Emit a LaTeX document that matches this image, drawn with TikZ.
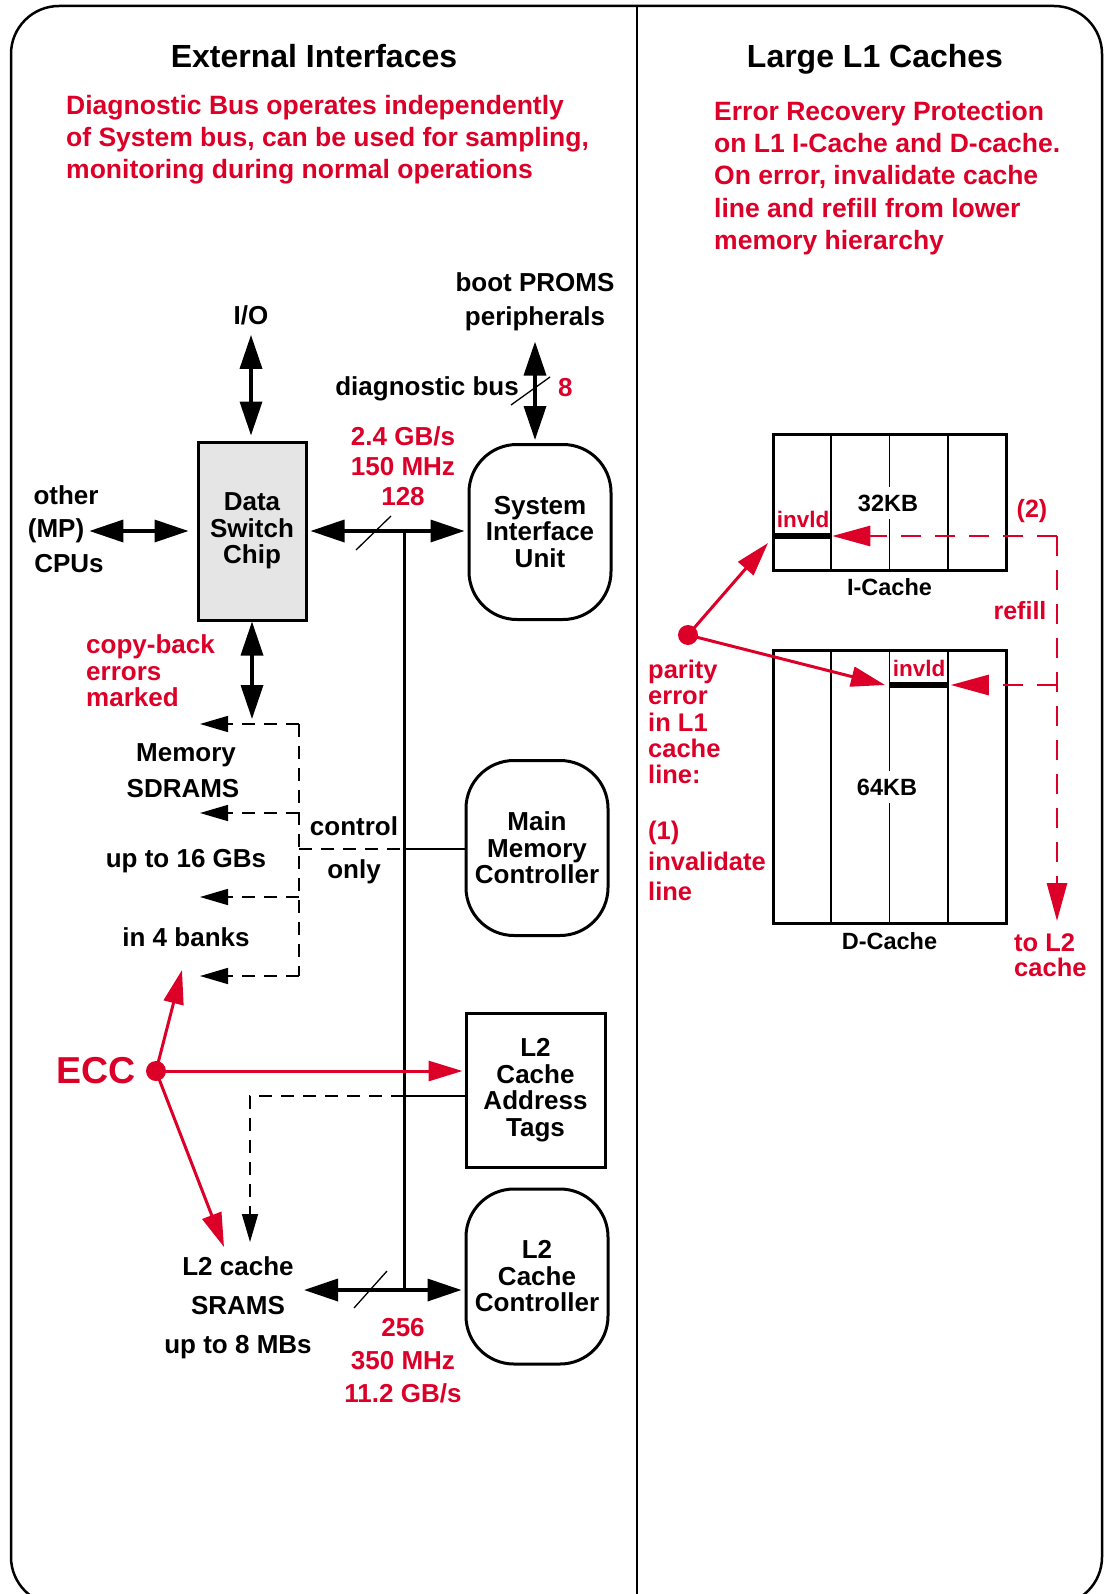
\documentclass[tikz,border=0pt]{standalone}
\usepackage{fontspec}
\setmainfont{Liberation Sans}
\usetikzlibrary{arrows.meta, math, positioning, calc}
\definecolor{myred}{RGB}{220, 0, 40}

\begin{document}
\begin{tikzpicture}[x=1pt, y=-1pt,
  every node/.style={inner sep=0pt, align=center, font=\bfseries\fontsize{26}{26.5}\selectfont},
  rtxt/.style={text=myred},
  blk/.style={draw, line width=3pt, minimum width=142pt, minimum height=175pt},
  rnd/.style={blk, rounded corners=48pt},
  dbl/.style={{Triangle[length=34pt,width=22pt]}-{Triangle[length=34pt,width=22pt]}, line width=3.5pt},
  dshl/.style={line width=1.6pt, dash pattern=on 13pt off 9pt},
  dsh/.style={dshl, -{Triangle[length=28pt,width=16pt]}},
  rarr/.style={-{Triangle[length=34pt,width=20pt]}, myred, line width=3pt},
  rdsh/.style={-{Triangle[length=38pt,width=20pt]}, myred, line width=2.8pt, dash pattern=on 20pt off 14pt},
  slash/.style={line width=1.3pt},
  cbox/.style={draw, line width=3pt, minimum width=233pt},
  csz/.style={font=\bfseries\fontsize{23.5}{23.5}\selectfont},
]
\tikzmath{
\cL=773;
\cR=1006;
\q=(\cR-\cL)/4;
\iT=434;
\iB=570;
\dT=650;
\dB=923;
}
\useasboundingbox (0,0) rectangle (1104,1594);

% frame and the two halves
\draw[line width=2.5pt, rounded corners=48pt] (11,6) rectangle (1102,1605);
\draw[line width=2.5pt] (637,6) -- (637,1605);

\node[font=\bfseries\fontsize{32}{32}\selectfont] (headL) at (314,56) {External Interfaces};
\node[font=\bfseries\fontsize{32}{32}\selectfont] (headR) at (875,59) {Large L1 Caches};
\node[rtxt, anchor=west, align=left, font=\bfseries\fontsize{26.5}{32}\selectfont] (noteL) at (66,140)
  {Diagnostic Bus operates independently\\of System bus, can be used for sampling,\\monitoring during normal operations};
\node[rtxt, anchor=west, align=left, font=\bfseries\fontsize{26.5}{32.2}\selectfont] (noteR) at (714,178)
  {Error Recovery Protection\\on L1 I-Cache and D-cache.\\On error, invalidate cache\\line and refill from lower\\memory hierarchy};

%%%%%%%%%%   external interfaces
\node (io) at (251,315) {I/O};
\node (boot) at (535,302) {boot PROMS\\[8pt]peripherals};
\node[anchor=east] (diag) at (519,389) {diagnostic bus};
\node[rtxt, anchor=west] (wd8) at (558,388) {8};

\node[blk, fill=black!10, minimum width=108pt, minimum height=178pt] (dsc) at (252,531) {Data\\Switch\\Chip};
\node[rnd] (siu) at (540,532) {System\\Interface\\Unit};
\node (cpuA) at (66,495) {other};
\node (mp) at (56,531) {(MP)};
\node (cpuB) at (69,564) {CPUs};
\node[rtxt, font=\bfseries\fontsize{26}{30}\selectfont] (bwSys) at (403,466) {2.4 GB/s\\150 MHz\\128};

\coordinate (busT) at (404,531);
\coordinate (busB) at (404,1290);

\draw[dbl, shorten <=10pt, shorten >=5pt] (io.south) -- (io.south |- dsc.north);
\draw[dbl, shorten <=10pt, shorten >=3pt] (boot.south) -- (boot.south |- siu.north);
\draw[slash] (511,405) -- (550,377);
\draw[dbl, shorten <=5pt, shorten >=8pt] (mp.east) -- (mp.east -| dsc.west);
\draw[dbl, shorten <=3pt, shorten >=3pt] (busT -| dsc.east) -- (busT -| siu.west);
\draw[line width=3pt] (busT) -- (busB);
\draw[slash] (356,550) -- (391,516);

%%%%%%%%%%   main memory
\node[rtxt, anchor=west, align=left] (cpb) at (86,671) {copy-back\\errors\\marked};
\node (memA) at (186,755) {Memory};
\node (memB) at (183,789) {SDRAMS};
\node (memC) at (186,861) {up to 16 GBs};
\node (memD) at (186,937) {in 4 banks};
\node (ctlA) at (354,826) {control};
\node (ctlB) at (354,872) {only};
\node[rnd] (mmc) at (537,848) {Main\\Memory\\Controller};

\coordinate (memtop) at (252,719);
\draw[dbl] (dsc.south) -- (memtop);
\foreach \i/\yy in {1/724, 2/813, 3/897, 4/976} {
  \coordinate (mr\i) at (299,\yy);
  \coordinate (ml\i) at (200,\yy);
  \draw[dsh] (mr\i) -- (ml\i);
}
\draw[dshl] (mr1) -- (mr4);
\coordinate (ctl) at (299,849);
\draw[dshl] (ctl) -- (ctl -| busT);
\draw[line width=2.5pt] (ctl -| busT) -- (ctl -| mmc.west);

%%%%%%%%%%   L2 cache
\node[blk, minimum width=139pt, minimum height=154pt] (tags) at (535.5,1090) {L2\\Cache\\Address\\Tags};
\node[rnd] (l2c) at (537,1276.5) {L2\\Cache\\Controller};
\node[rtxt, font=\bfseries\fontsize{37.5}{37.5}\selectfont] (ecc) at (96,1071) {ECC};
\node[circle, fill=myred, minimum size=20pt] (eccdot) at (156,1071) {};
\node[font=\bfseries\fontsize{26}{39}\selectfont] (sram) at (238,1308) {L2 cache\\SRAMS\\up to 8 MBs};
\node[rtxt, font=\bfseries\fontsize{26}{33}\selectfont] (bwL2) at (403,1361) {256\\350 MHz\\11.2 GB/s};

\coordinate (tg) at (404,1096);
\draw[line width=2.5pt] (tg) -- (tg -| tags.west);
\coordinate (l2dn) at (250,1242);
\draw[dsh] (tg) -- (tg -| l2dn) -- (l2dn);

\coordinate (eccup) at (182,970);
\coordinate (eccdn) at (224,1247);
\draw[rarr, shorten >=2pt] (eccdot.center) -- (eccdot.center -| tags.west);
\draw[rarr] (eccdot.center) -- (eccup);
\draw[rarr] (eccdot.center) -- (eccdn);

\coordinate (l2L) at (304,1290);
\draw[dbl, shorten >=3pt] (l2L) -- (busB -| l2c.west);
\draw[slash] (354,1308) -- (387,1271);

%%%%%%%%%%   L1 caches
\foreach \k in {1,2,3} {
  \draw[line width=1.6pt] (\cL+\k*\q,\iT) -- (\cL+\k*\q,\iB);
  \draw[line width=1.6pt] (\cL+\k*\q,\dT) -- (\cL+\k*\q,\dB);
}
\node[cbox, minimum height=136pt] (ic) at ({(\cL+\cR)/2},{(\iT+\iB)/2}) {};
\node[cbox, minimum height=273pt] (dc) at ({(\cL+\cR)/2},{(\dT+\dB)/2}) {};
\node[csz, fill=white, inner ysep=8pt] (ikb) at (888,503) {32KB};
\node[csz, fill=white, inner ysep=8pt] (dkb) at (887,787) {64KB};
\node[csz, below=7pt of ic] (iclab) {I-Cache};
\node[csz, below=8pt of dc] (dclab) {D-Cache};

\coordinate (iinv) at (\cL+\q,536);
\coordinate (dinv) at (\cL+3*\q,685);
\draw[line width=6pt] (\cL,536) -- (iinv);
\draw[line width=6pt] (\cL+2*\q,685) -- (dinv);
\node[rtxt, font=\bfseries\fontsize{22.5}{22.5}\selectfont] (iinvt) at (803,519) {invld};
\node[rtxt, font=\bfseries\fontsize{22.5}{22.5}\selectfont] (dinvt) at (919,668) {invld};

\coordinate (rfI) at (1057,536);
\coordinate (rfD) at (1057,685);
\coordinate (rfL) at (1057,921);
\draw[rdsh, shorten >=1pt] (rfI) -- (iinv);
\draw[rdsh, shorten >=3pt] (rfD) -- (dinv);
\draw[rdsh] (rfI) -- (rfL);
\node[rtxt, font=\bfseries\fontsize{25}{25}\selectfont] (stp2) at (1032,511) {(2)};
\node[rtxt, font=\bfseries\fontsize{25}{25}\selectfont] (refill) at (1020,611) {refill};
\node[rtxt, anchor=west, align=left, font=\bfseries\fontsize{25.5}{25}\selectfont] (toL2) at (1014,955) {to L2\\cache};

\node[circle, fill=myred, minimum size=20pt] (pdot) at (688,635) {};
\coordinate (pI) at (768,543);
\coordinate (pD) at (885,685);
\draw[rarr] (pdot.center) -- (pI);
\draw[rarr] (pdot.center) -- (pD);
\node[rtxt, anchor=west, align=left, font=\bfseries\fontsize{25.5}{26.3}\selectfont] (perr) at (648,722) {parity\\error\\in L1\\cache\\line:};
\node[rtxt, anchor=west, align=left, font=\bfseries\fontsize{25.5}{30.5}\selectfont] (pinv) at (648,861) {(1)\\invalidate\\line};
\end{tikzpicture}
\end{document}
